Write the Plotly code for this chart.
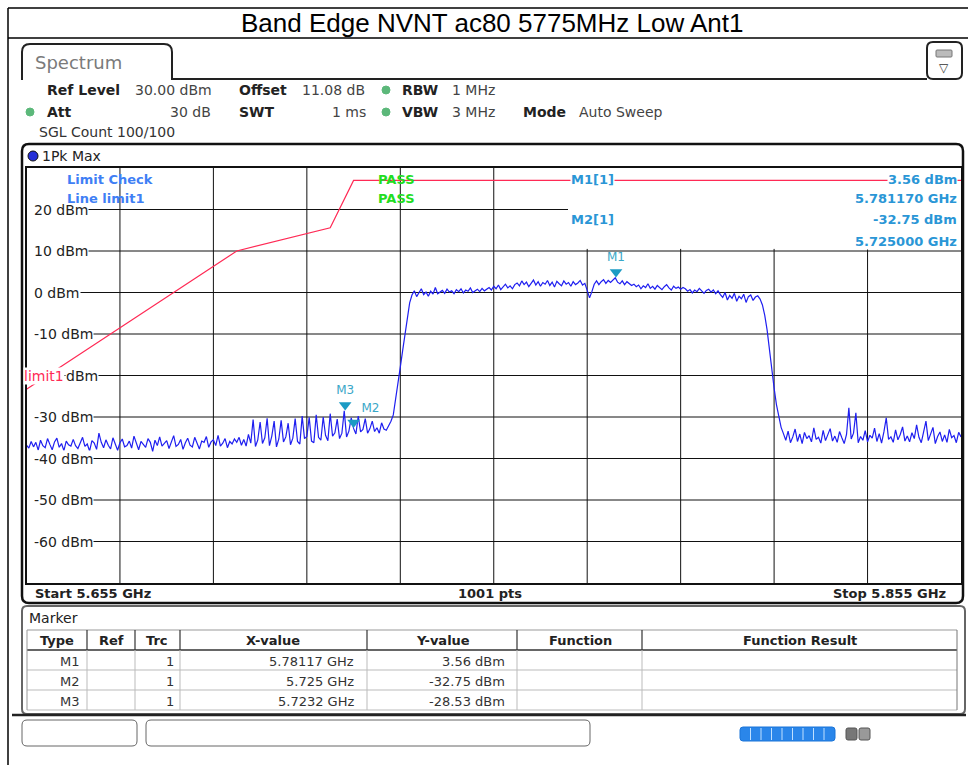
import plotly.graph_objects as go

W, H = 968, 765

START_GHZ = 5.655
STOP_GHZ = 5.855

# Trace 1 (1Pk Max) in dBm, every 0.5 MHz
lower_floor = [
    -36.8, -37.5, -35.9, -37.2, -36.1, -38.0, -35.6, -36.9, -37.4, -35.2,
    -36.6, -37.9, -36.0, -35.1, -37.3, -36.4, -38.1, -35.8, -36.7, -37.0,
    -35.4, -36.9, -37.6, -36.2, -34.9, -37.1, -36.5, -38.2, -35.7, -36.3,
    -37.8, -33.9, -36.1, -37.4, -35.5, -36.8, -37.7, -35.0, -36.6, -38.0,
    -36.2, -35.3, -37.2, -36.9, -35.8, -37.5, -34.6, -36.4, -37.9, -35.9,
    -36.7, -37.3, -35.2, -36.1, -38.3, -35.6, -36.9, -34.8, -37.0, -36.3,
    -35.7, -37.6, -36.0, -34.5, -37.1, -36.6, -35.4, -37.8, -36.2, -35.1,
    -36.8, -37.2, -34.9, -36.4, -37.7, -35.8, -36.1, -34.7, -37.3, -36.0,
    -35.5, -36.9, -34.4, -37.0, -36.3, -35.2, -37.4, -35.9, -36.5, -35.3,
]
lower_skirt = [
    -36.1, -34.9, -36.8, -35.4, -37.0, -34.2, -36.3, -30.6, -37.1, -35.5,
    -31.2, -36.4, -35.0, -30.3, -36.9, -34.6, -31.0, -37.2, -35.3, -30.8,
    -36.0, -34.8, -31.5, -36.7, -35.1, -30.4, -35.9, -36.5, -29.8, -35.2,
    -34.7, -30.1, -35.8, -36.2, -29.5, -34.9, -35.6, -30.0, -34.4, -35.7,
    -29.2, -34.6, -33.8, -30.5, -35.2, -33.9, -28.53, -34.8, -33.4, -30.2,
    -32.75, -34.1, -29.8, -33.6, -33.0, -30.4, -33.9, -32.8, -31.0, -33.5,
    -32.6, -33.9, -31.4, -32.9, -33.2, -32.1,
]
rising_edge = [-31.0, -29.5, -26.0, -22.0, -18.0, -14.0, -10.0, -6.5, -2.5]
in_band = [
    -0.6, 0.4, -1.0, -0.2, 0.9, -0.5, 0.1, -0.9, 0.3, -0.4, 1.2, -0.3, 0.2,
    0.5, -0.2, 0.8, 0.1, 0.4, -0.3, 0.7, 0.2, 0.9, -0.1,
    0.6, 0.3, 1.1, 0.0, 0.5, 0.8, 0.2, 1.0, 0.4, 0.7,
    1.2, 0.6, 1.5, 0.9, 1.8, 0.7, 1.3, 2.0, 1.1, 1.6, 0.9, 1.9,
    2.3, 1.6, 2.8, 1.9, 2.5, 1.4, 2.2, 3.0, 1.8, 2.6, 1.5, 2.4, 2.0, 2.9, 1.7,
    2.5, 1.3, 2.7, 2.1, 1.6, 2.8, 2.0, 2.4, 1.5, 2.6, 1.9, 2.3, 2.9, 1.8, 2.2,
    0.5, -1.3, 0.2,
    2.0, 2.8, 1.9, 2.6, 3.1, 2.2, 2.9, 2.4, 3.0, 3.56, 2.5, 2.1, 2.8, 1.9, 2.6, 2.2, 1.7,
    2.0, 1.4, 1.8, 0.9, 1.6, 1.2, 2.1, 1.0, 1.5, 0.8, 1.7,
    1.3, 0.7, 1.4, 1.9, 1.1, 0.6, 1.5, 1.0, 1.3, 0.8, 1.2,
    0.9, 0.3, 0.7, -0.1, 0.6, 0.2, 1.0, 0.4, -0.2, 0.5, 0.8, 0.1, 0.6, -0.3, 0.4,
    -0.5, -1.2, 0.0, -1.8, -0.7, -1.4, -0.2, -2.1, -0.9,
    -1.5, -0.4, -2.4, -1.0, -0.6, -1.9, -1.1, -0.8, -1.6,
]
falling_edge = [-3.0, -5.5, -9.0, -14.0, -19.0, -23.0, -27.0, -30.0, -32.5, -34.0]
upper_floor = [
    -35.6, -33.4, -36.2, -34.8, -32.9, -35.9, -34.1, -36.4, -33.7, -35.2,
    -34.5, -36.0, -32.6, -35.4, -34.9, -36.3, -33.2, -35.7, -34.3, -32.8,
    -35.8, -34.6, -36.1, -33.5, -35.0, -36.4, -34.2, -27.8, -35.3, -33.9,
    -29.0, -36.2, -34.7, -35.6, -33.3, -36.0, -34.4, -35.1, -32.7, -35.9,
    -34.0, -36.3, -33.6, -30.2, -35.4, -34.8, -36.1, -33.1, -35.5, -34.2,
    -32.4, -35.8, -34.6, -36.0, -33.8, -35.2, -31.9, -34.9, -36.2, -33.4,
    -31.0, -35.7, -34.1, -32.5, -36.4, -34.7, -33.6, -35.9, -34.3, -36.1,
    -33.0, -35.0, -34.5, -36.2, -33.7, -34.8,
]

limit_freq = [5.655, 5.700, 5.720, 5.725, 5.855]
limit_dbm = [-23.3, 10.0, 15.6, 27.0, 27.0]

marker_names = ["M1", "M2", "M3"]
marker_freq = [5.78117, 5.725, 5.7232]
marker_dbm = [3.56, -32.75, -28.53]
marker_x_text = ["5.78117 GHz", "5.725 GHz", "5.7232 GHz"]
marker_y_text = ["3.56 dBm", "-32.75 dBm", "-28.53 dBm"]

y_ticks = [20, 10, 0, -10, -20, -30, -40, -50, -60]
x_grid = [START_GHZ + 0.02 * k for k in range(1, 10)]

levels = lower_floor + lower_skirt + rising_edge + in_band + falling_edge + upper_floor
n = len(levels)
freqs = [START_GHZ + (STOP_GHZ - START_GHZ) * i / (n - 1) for i in range(n)]

FONT = "DejaVu Sans"
TRACE = "#1f1ff0"
LIMIT = "#ff2a55"
MARK = "#1b9bc4"
INFO = "#2a96d6"


def px(x):
    return x / W


def py(y):
    return 1 - y / H


def label(x, y, text, size=14, color="#222", bold=False, anchor="left",
          bg=None, family=FONT, yref="paper"):
    ann = dict(xref="paper", yref=yref, x=px(x), y=py(y) if yref == "paper" else y,
               text=f"<b>{text}</b>" if bold else text, showarrow=False,
               xanchor=anchor, yanchor="middle",
               font=dict(family=family, size=size, color=color))
    if bg:
        ann.update(bgcolor=bg, borderpad=0)
    return ann


def line(x0, y0, x1, y1, color="#111", width=1):
    return dict(type="line", xref="paper", yref="paper", x0=px(x0), y0=py(y0),
                x1=px(x1), y1=py(y1), line=dict(color=color, width=width))


def rrect(x0, y0, x1, y1, r, color="#111", width=1, fill="rgba(0,0,0,0)"):
    p = (f"M{px(x0 + r)},{py(y0)} L{px(x1 - r)},{py(y0)} Q{px(x1)},{py(y0)} {px(x1)},{py(y0 + r)} "
         f"L{px(x1)},{py(y1 - r)} Q{px(x1)},{py(y1)} {px(x1 - r)},{py(y1)} "
         f"L{px(x0 + r)},{py(y1)} Q{px(x0)},{py(y1)} {px(x0)},{py(y1 - r)} "
         f"L{px(x0)},{py(y0 + r)} Q{px(x0)},{py(y0)} {px(x0 + r)},{py(y0)} Z")
    return dict(type="path", xref="paper", yref="paper", path=p,
                line=dict(color=color, width=width), fillcolor=fill)


def dot(x, y, r, color, edge=None):
    return dict(type="circle", xref="paper", yref="paper",
                x0=px(x - r), x1=px(x + r), y0=py(y + r), y1=py(y - r),
                fillcolor=color, line=dict(color=edge or color, width=1))


fig = go.Figure()

fig.add_trace(go.Scatter(x=limit_freq, y=limit_dbm, mode="lines",
                         line=dict(color=LIMIT, width=1.2), hoverinfo="skip"))
fig.add_trace(go.Scatter(x=freqs, y=levels, mode="lines",
                         line=dict(color=TRACE, width=1.2)))
fig.add_trace(go.Scatter(
    x=marker_freq, y=[v + 1.4 for v in marker_dbm], mode="markers+text",
    marker=dict(symbol="triangle-down", size=11, color=MARK),
    text=marker_names, textposition=["top center", "top right", "top center"],
    textfont=dict(family=FONT, size=12, color="#3aa7c8")))

shapes = []
# window chrome
shapes += [line(8, 8, 968, 8, "#000", 1.5), line(8, 38, 968, 38, "#000", 1.5),
           line(8, 8, 8, 765, "#000", 1.5)]
tab = (f"M{px(22)},{py(80)} L{px(22)},{py(52)} Q{px(22)},{py(44)} {px(30)},{py(44)} "
       f"L{px(164)},{py(44)} Q{px(172)},{py(44)} {px(172)},{py(52)} L{px(172)},{py(79)} "
       f"L{px(927)},{py(79)}")
shapes.append(dict(type="path", xref="paper", yref="paper", path=tab,
                   line=dict(color="#222", width=2)))
shapes.append(rrect(927, 42, 962, 79, 6, "#222", 2))
shapes.append(rrect(936, 50, 952, 57, 1, "#777", 1, "#bbb"))
shapes += [dot(386, 90, 4, "#5cb87a"), dot(30, 112, 4, "#5cb87a"), dot(386, 112, 4, "#5cb87a")]

# diagram frame
shapes.append(rrect(22, 144, 963, 603, 7, "#111", 2.5))
shapes.append(dot(33, 156, 5, "#2630d8", "#111"))

# grid
for f in x_grid:
    top = 10.5 if f > 5.77 else 30
    shapes.append(dict(type="line", xref="x", yref="y", x0=f, x1=f, y0=-70, y1=top,
                       line=dict(color="#111", width=1), layer="below"))
for v in y_ticks:
    right = 568 if v == 20 else 961
    shapes.append(dict(type="line", xref="paper", yref="y", x0=px(36), x1=px(right),
                       y0=v, y1=v, line=dict(color="#111", width=1), layer="below"))

# marker table
shapes.append(rrect(22, 606, 965, 714, 5, "#666", 2))
shapes.append(line(27, 630, 957, 630, "#999", 1))
shapes.append(line(27, 650, 957, 650, "#333", 1.5))
for yy in (670, 690, 710):
    shapes.append(line(27, yy, 957, yy, "#bbb", 1))
for xx in (87, 135, 180, 367, 517, 642):
    shapes.append(line(xx, 630, xx, 650, "#333", 1.2))
    shapes.append(line(xx, 650, xx, 710, "#bbb", 1))
shapes.append(line(957, 630, 957, 710, "#777", 1))
shapes.append(line(27, 630, 27, 710, "#999", 1))

# status bar
shapes.append(line(12, 715, 966, 715, "#222", 2.5))
shapes.append(rrect(22, 720, 137, 746, 5, "#666", 1))
shapes.append(rrect(146, 720, 590, 746, 5, "#666", 1))
shapes.append(rrect(740, 727, 835, 741, 3, "#1a74d8", 1, "#2a86ea"))
for k in range(1, 9):
    shapes.append(line(740 + k * 10.5, 728, 740 + k * 10.5, 740, "#bfe0ff", 1))
shapes.append(rrect(846, 728, 857, 740, 2, "#555", 1, "#777"))
shapes.append(rrect(859, 728, 870, 740, 2, "#555", 1, "#999"))

anns = []
anns.append(label(492, 23, "Band Edge NVNT ac80 5775MHz Low Ant1", size=26,
                  color="#000", anchor="center", family="Liberation Sans"))
anns.append(label(33, 62, "Spectrum", size=18, color="#7a7a7a"))
anns.append(label(944, 68, "▽", size=12, color="#333", anchor="center"))

anns += [
    label(45, 90, "Ref Level", bold=True), label(133, 90, "30.00 dBm", color="#444"),
    label(237, 90, "Offset", bold=True), label(300, 90, "11.08 dB", color="#444"),
    label(400, 90, "RBW", bold=True), label(450, 90, "1 MHz", color="#444"),
    label(45, 112, "Att", bold=True), label(213, 112, "30 dB", color="#444", anchor="right"),
    label(237, 112, "SWT", bold=True), label(368, 112, "1 ms", color="#444", anchor="right"),
    label(400, 112, "VBW", bold=True), label(450, 112, "3 MHz", color="#444"),
    label(521, 112, "Mode", bold=True), label(577, 112, "Auto Sweep", color="#444"),
    label(37, 132, "SGL Count 100/100", color="#333"),
    label(40, 156, "1Pk Max", color="#222"),
]

for v in y_ticks:
    if v == -20:
        # the limit line name sits over the first part of this tick label
        anns.append(label(23, v, "limit1", color=LIMIT, bg="white", yref="y"))
        anns.append(label(65, v, "dBm", color="#222", bg="white", yref="y"))
    else:
        anns.append(label(33, v, f"{v} dBm", color="#222", bg="white", yref="y"))

anns += [
    label(65, 179, "Limit Check", bold=True, size=13, color="#3f7ff5"),
    label(65, 199, "Line limit1", bold=True, size=13, color="#3f7ff5"),
    label(376, 179, "PASS", bold=True, size=13, color="#22dd22"),
    label(376, 199, "PASS", bold=True, size=13, color="#22dd22"),
    label(570, 179, "M1[1]", bold=True, size=13, color=INFO, bg="white"),
    label(958, 179, marker_y_text[0], bold=True, size=13, color=INFO, anchor="right", bg="white"),
    label(958, 199, "5.781170 GHz", bold=True, size=13, color=INFO, anchor="right", bg="white"),
    label(570, 220, "M2[1]", bold=True, size=13, color=INFO, bg="white"),
    label(958, 220, marker_y_text[1], bold=True, size=13, color=INFO, anchor="right", bg="white"),
    label(958, 241, "5.725000 GHz", bold=True, size=13, color=INFO, anchor="right", bg="white"),
]

anns += [
    label(33, 593, f"Start {START_GHZ:.3f} GHz", bold=True, size=13),
    label(490, 593, "1001 pts", bold=True, size=13, anchor="center"),
    label(948, 593, f"Stop {STOP_GHZ:.3f} GHz", bold=True, size=13, anchor="right"),
    label(27, 618, "Marker", size=14, color="#222"),
]

headers = [("Type", 57), ("Ref", 111), ("Trc", 157), ("X-value", 273),
           ("Y-value", 443), ("Function", 580), ("Function Result", 800)]
for text, xc in headers:
    anns.append(label(xc, 640, text, bold=True, size=13, anchor="center"))
for i, name in enumerate(marker_names):
    yy = 661 + i * 20
    anns.append(label(82, yy, name, size=13, color="#333", anchor="right"))
    anns.append(label(176, yy, "1", size=13, color="#333", anchor="right"))
    anns.append(label(356, yy, marker_x_text[i], size=13, color="#333", anchor="right"))
    anns.append(label(507, yy, marker_y_text[i], size=13, color="#333", anchor="right"))

fig.update_layout(
    width=W, height=H, autosize=False, margin=dict(l=0, r=0, t=0, b=0),
    paper_bgcolor="white", plot_bgcolor="white", showlegend=False,
    shapes=shapes, annotations=anns,
    xaxis=dict(domain=[px(26.5), px(961)], range=[START_GHZ, STOP_GHZ],
               showgrid=False, zeroline=False, showticklabels=False, ticks="",
               showline=True, mirror=True, linecolor="#111", linewidth=1.5),
    yaxis=dict(domain=[py(583), py(168)], range=[-70, 30],
               showgrid=False, zeroline=False, showticklabels=False, ticks="",
               showline=True, mirror=True, linecolor="#111", linewidth=1.5),
)

fig.write_html("out.html", config={"displayModeBar": False},
               post_script="document.body.style.margin='0';"
               "document.body.style.overflow='hidden';")
